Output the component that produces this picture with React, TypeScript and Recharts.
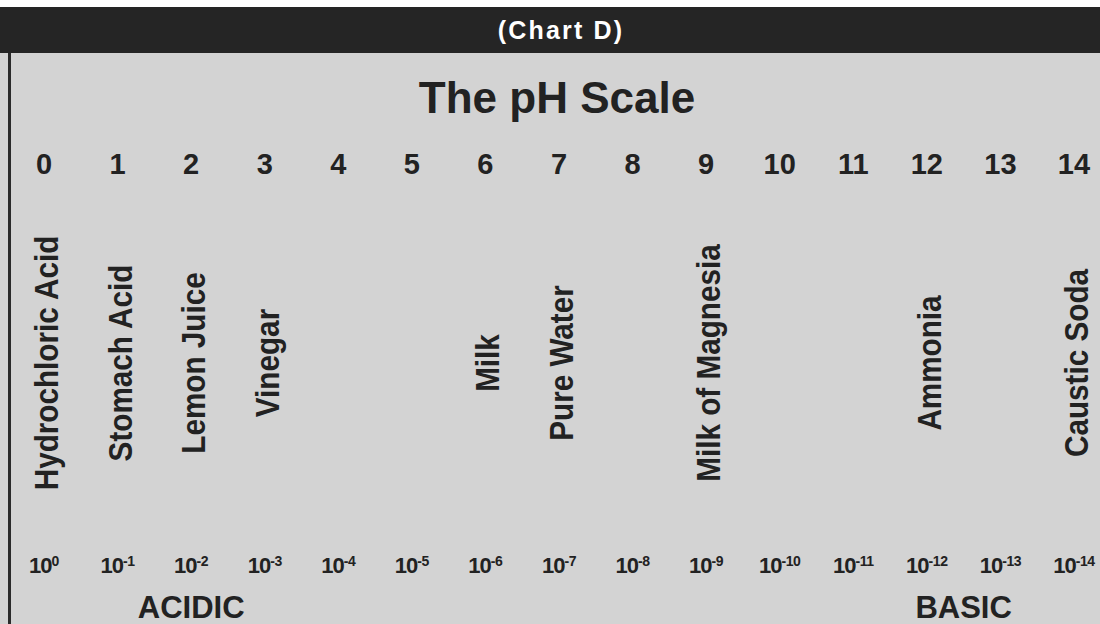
import React from "react";
import { ScatterChart, Scatter, XAxis, YAxis } from "recharts";

const phValues = [0, 1, 2, 3, 4, 5, 6, 7, 8, 9, 10, 11, 12, 13, 14];
const concentrationExponents = [0, -1, -2, -3, -4, -5, -6, -7, -8, -9, -10, -11, -12, -13, -14];
const substanceNames = [
  "Hydrochloric Acid",
  "Stomach Acid",
  "Lemon Juice",
  "Vinegar",
  "Milk",
  "Pure Water",
  "Milk of Magnesia",
  "Ammonia",
  "Caustic Soda",
];
const substancePh = [0, 1, 2, 3, 6, 7, 9, 12, 14];
const regionNames = ["ACIDIC", "BASIC"];
const regionPh = [2, 12.5];

const FONT = "'Liberation Sans', Arial, Helvetica, sans-serif";
const INK = "#222222";

const substances = substanceNames.map((name, i) => ({ name, ph: substancePh[i], level: 0 }));
const concPoints = phValues.map((ph) => ({ ph, level: 0 }));
const regionPoints = regionPh.map((ph) => ({ ph, level: 0 }));

function PhTick(props: any) {
  const { x, y, payload } = props;
  return (
    <text x={x} y={y} dy={-26} textAnchor="middle" fill={INK} fontFamily={FONT} fontWeight={700} fontSize={29}>
      {payload.value}
    </text>
  );
}

function ConcTick(props: any) {
  const { x, y, payload } = props;
  const exp = concentrationExponents[phValues.indexOf(payload.value)];
  return (
    <text x={x} y={y} dy={47} textAnchor="middle" fill={INK} fontFamily={FONT} fontWeight={700} fontSize={22} letterSpacing={-1}>
      <tspan>10</tspan>
      <tspan fontSize={14} dy={-7} letterSpacing={-0.4}>{String(exp)}</tspan>
    </text>
  );
}

function RegionTick(props: any) {
  const { x, y, payload } = props;
  const name = regionNames[regionPh.indexOf(payload.value)];
  return (
    <text x={x} y={y} dy={62} textAnchor="middle" fill={INK} fontFamily={FONT} fontWeight={700} fontSize={31}>
      {name}
    </text>
  );
}

function SubstanceLabel(props: any) {
  const { cx, cy, payload } = props;
  return (
    <text
      transform={`translate(${cx},${cy}) rotate(-90) scale(0.9,1)`}
      x={0}
      y={14}
      textAnchor="middle"
      fill={INK}
      fontFamily={FONT}
      fontWeight={700}
      fontSize={33}
    >
      {payload.name}
    </text>
  );
}

const NoMark = () => <g />;

export default function App() {
  return (
    <div style={{ position: "absolute", left: 0, top: 0, width: 1100, height: 624, background: "#d3d3d3", overflow: "hidden" }}>
      <div style={{ position: "absolute", left: 0, top: 0, width: 1100, height: 7, background: "#ffffff" }} />
      <div
        style={{
          position: "absolute",
          left: 0,
          top: 7,
          width: 1100,
          height: 46,
          background: "#252525",
          color: "#ffffff",
          fontFamily: FONT,
          fontWeight: 700,
          fontSize: 25,
          letterSpacing: 2.2,
          textAlign: "center",
          lineHeight: "46px",
          paddingLeft: 22,
          boxSizing: "border-box",
        }}
      >
        (Chart D)
      </div>
      <div style={{ position: "absolute", left: 8, top: 53, width: 3, height: 571, background: "#2a2a2a" }} />
      <div
        style={{
          position: "absolute",
          left: 0,
          top: 68,
          width: 1114,
          textAlign: "center",
          fontFamily: FONT,
          fontWeight: 700,
          fontSize: 44,
          lineHeight: "60px",
          color: INK,
        }}
      >
        The pH Scale
      </div>
      <div style={{ position: "absolute", left: 0, top: 0 }}>
        <ScatterChart width={1100} height={624} margin={{ top: 170, right: 26, bottom: 38, left: 44 }}>
          <XAxis
            xAxisId="ph"
            dataKey="ph"
            type="number"
            orientation="top"
            domain={[0, 14]}
            ticks={phValues}
            axisLine={false}
            tickLine={false}
            tickSize={0}
            tickMargin={0}
            height={30}
            interval={0}
            tick={<PhTick />}
          />
          <XAxis
            xAxisId="conc"
            dataKey="ph"
            type="number"
            orientation="bottom"
            domain={[0, 14]}
            ticks={phValues}
            axisLine={false}
            tickLine={false}
            tickSize={0}
            tickMargin={0}
            height={30}
            interval={0}
            tick={<ConcTick />}
          />
          <XAxis
            xAxisId="region"
            dataKey="ph"
            type="number"
            orientation="bottom"
            domain={[0, 14]}
            ticks={regionPh}
            axisLine={false}
            tickLine={false}
            tickSize={0}
            tickMargin={0}
            height={30}
            interval={0}
            tick={<RegionTick />}
          />
          <YAxis dataKey="level" type="number" domain={[-1, 1]} hide />
          <Scatter xAxisId="ph" data={substances} shape={<SubstanceLabel />} isAnimationActive={false} />
          <Scatter xAxisId="conc" data={concPoints} shape={<NoMark />} isAnimationActive={false} />
          <Scatter xAxisId="region" data={regionPoints} shape={<NoMark />} isAnimationActive={false} />
        </ScatterChart>
      </div>
    </div>
  );
}
